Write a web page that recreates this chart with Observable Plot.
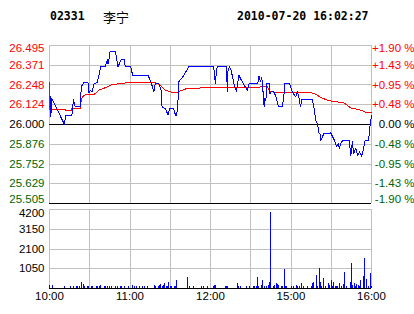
<!DOCTYPE html>
<html>
<head>
<meta charset="utf-8">
<script src="https://cdn.jsdelivr.net/npm/d3@7"></script>
<script src="https://cdn.jsdelivr.net/npm/@observablehq/plot@0.6"></script>
<style>
  html, body { margin: 0; padding: 0; background: #fff; }
  #wrap { position: relative; width: 414px; height: 314px; background: #fff; overflow: hidden; }
  #wrap svg { position: absolute; left: 0; background: transparent; }
  .hdr { position: absolute; top: 9px; font: bold 11.5px "DejaVu Sans Mono", monospace; color: #000; white-space: pre; }
  .cn { position: absolute; top: 7px; left: 103px; font: 13px "Noto Sans CJK SC", sans-serif; color: #000; }
</style>
</head>
<body>
<div id="wrap">
  <div class="hdr" id="code" style="left:50px"></div>
  <div class="cn" id="name"></div>
  <div class="hdr" id="stamp" style="left:237px"></div>
</div>
<script>
// ---- header ----
const stockCode = "02331";
const stockName = "李宁";
const timeStamp = "2010-07-20 16:02:27";

// ---- scales / tick labels ----
const prevClose = 26.000;
const priceTicks = [26.495, 26.371, 26.248, 26.124, 26.000, 25.876, 25.752, 25.629, 25.505];
const pctLabels = ["+1.90 %", "+1.43 %", "+0.95 %", "+0.48 %", "0.00 %", "-0.48 %", "-0.95 %", "-1.43 %", "-1.90 %"];
const volTicks = [4200, 3150, 2100, 1050];
// trading minutes since 10:00 (lunch break 12:30-14:30 removed)
const timeTicks = [0, 60, 120, 180, 240];
const timeLabels = ["10:00", "11:00", "12:00", "15:00", "16:00"];
const gridMinutes = [0, 30, 60, 90, 120, 150, 180, 210, 240];

// ---- price line (blue) ----
const priceMin = [1.0, 1.0, 1.8, 11, 12.2, 16.7, 17.9, 18.7, 19.7, 22.9, 23.7, 25.4, 28.7, 29.4, 30.6, 31.7, 33.2, 35.6, 37.1, 38.1,
  41.6, 43.1, 43.6, 44.4, 45.1, 49.1, 49.8, 51.1, 52.1, 53.5, 55.6, 56.5, 60.5, 62, 73.5, 76, 77.7, 78.9, 81.4, 83.2,
  83.9, 86.4, 88.4, 89.4, 92.6, 93.9, 94.8, 95.9, 96.3, 99.3, 103.8, 122, 123, 123.5, 124, 125, 132, 132.5, 132.9, 134,
  135.5, 137.4, 139.4, 141.1, 143.7, 147.4, 148.9, 155.3, 156.1, 157.4, 158.1, 158.9, 159.4, 160.1, 160.6, 161.3, 161.8, 163.9, 164.3, 165.3,
  167.3, 168.8, 170.8, 173.6, 174.8, 175.5, 178.8, 181, 183.5, 184.8, 186, 187.2, 188, 196, 197.2, 198.4, 199.7, 200.9, 201.6, 202.2,
  203.4, 204.6, 209.6, 212.1, 214.1, 215.1, 216.1, 217.1, 218.6, 223.3, 224.6, 225.8, 226.6, 228.3, 229.6, 231.1, 232.6, 234.1, 235, 237.8,
  238.5, 239.5, 240];
const priceVal = [26.173, 26.052, 26.163, 26.002, 26.058, 26.058, 26.157, 26.121, 26.110, 26.110, 26.236, 26.261, 26.261, 26.198, 26.215, 26.204, 26.257, 26.261, 26.320, 26.361,
  26.361, 26.407, 26.378, 26.414, 26.455, 26.455, 26.424, 26.361, 26.382, 26.407, 26.407, 26.361, 26.361, 26.309, 26.309, 26.257, 26.204, 26.257, 26.257, 26.215,
  26.110, 26.100, 26.058, 26.100, 26.100, 26.058, 26.058, 26.163, 26.267, 26.298, 26.361, 26.361, 26.330, 26.257, 26.298, 26.361, 26.361, 26.204, 26.330, 26.361,
  26.336, 26.257, 26.204, 26.309, 26.267, 26.215, 26.257, 26.257, 26.303, 26.267, 26.295, 26.257, 26.152, 26.110, 26.163, 26.152, 26.257, 26.257, 26.194, 26.204,
  26.204, 26.173, 26.110, 26.110, 26.194, 26.257, 26.257, 26.204, 26.173, 26.204, 26.163, 26.110, 26.157, 26.157, 26.100, 26.027, 26.006, 25.944, 25.944, 25.902,
  25.922, 25.944, 25.947, 25.906, 25.860, 25.881, 25.850, 25.881, 25.902, 25.902, 25.808, 25.891, 25.818, 25.850, 25.808, 25.828, 25.801, 25.850, 25.897, 25.897,
  25.964, 26.027, 26.058];

// ---- average price line (red) ----
const avgMin = [0, 0.3, 1.3, 11.7, 11.7, 16.7, 16.7, 22.9, 23.7, 24.6, 26.7, 32.9, 34.1, 36.6, 40.3, 44.1, 46.6, 54.1, 59, 78.9,
  82.7, 86.4, 90.3, 95.1, 97.6, 102.6, 123.7, 154.9, 157.4, 162.4, 164.8, 176, 194.7, 198.5, 202.2, 207.2, 210.9, 219.6, 224.6, 232, 237, 240];
const avgVal = [26.261, 26.094, 26.094, 26.094, 26.085, 26.085, 26.100, 26.100, 26.152, 26.173, 26.188, 26.188, 26.194, 26.215, 26.226, 26.240, 26.251, 26.257, 26.263, 26.263,
  26.246, 26.215, 26.204, 26.198, 26.211, 26.226, 26.232, 26.229, 26.236, 26.236, 26.204, 26.201, 26.201, 26.190, 26.169, 26.152, 26.146, 26.135, 26.104, 26.090, 26.073, 26.073];

// ---- volume bars ----
const volMin = [0, 2, 11, 16, 18, 20, 21, 22, 24, 25, 26, 28, 29, 31, 32, 35, 36, 37, 38, 41,
  42, 43, 45, 46, 49, 51, 53, 54, 56, 59, 62, 63, 65, 67, 69, 71, 73, 78, 79, 81,
  82, 83, 84, 85, 86, 87, 88, 89, 90, 91, 93, 94, 95, 103, 104, 107, 113, 115, 118, 122,
  123, 124, 131, 132, 133, 140, 141, 142, 147, 149, 152, 153, 154, 155, 156, 158, 159, 160, 162, 163,
  164, 165, 167, 168, 169, 170, 171, 173, 174, 175, 176, 177, 180, 182, 184, 185, 186, 188, 189, 192,
  195, 196, 197, 199, 200, 201, 202, 203, 204, 206, 208, 209, 210, 211, 212, 213, 214, 215, 216, 218,
  219, 220, 221, 224, 225, 226, 227, 228, 229, 230, 231, 232, 234, 235, 236, 238, 239, 240];
const volVal = [160, 140, 120, 120, 120, 120, 120, 120, 335, 230, 120, 120, 120, 120, 120, 120, 120, 120, 180, 120,
  120, 120, 120, 120, 120, 120, 120, 120, 120, 120, 180, 120, 120, 120, 120, 120, 120, 180, 120, 120,
  180, 230, 120, 180, 265, 120, 120, 335, 120, 120, 120, 120, 400, 580, 120, 120, 120, 120, 120, 120,
  180, 180, 120, 120, 120, 280, 120, 120, 120, 120, 120, 120, 120, 600, 120, 180, 440, 120, 120, 180,
  335, 4040, 120, 180, 280, 230, 180, 120, 120, 1025, 120, 120, 120, 120, 180, 120, 120, 280, 120, 120,
  120, 280, 335, 710, 120, 1060, 335, 120, 550, 120, 280, 180, 440, 120, 335, 120, 120, 120, 280, 120,
  230, 830, 120, 335, 1310, 180, 280, 120, 230, 180, 120, 400, 655, 1610, 500, 120, 815, 120];

// ---- colours ----
const RED = "#ff0000", GREEN = "#006400", BLUE = "#0000ff", GRID = "#c0c0c0", BLACK = "#000000";
const FONT = "Liberation Sans, Arial, sans-serif";
const tone = v => v > prevClose + 1e-9 ? RED : (v < prevClose - 1e-9 ? GREEN : BLACK);

document.getElementById("code").textContent = stockCode;
document.getElementById("name").textContent = stockName;
document.getElementById("stamp").textContent = timeStamp;

const priceLine = priceMin.map((t, i) => ({t, p: priceVal[i]}));
const avgLine = avgMin.map((t, i) => ({t, p: avgVal[i]}));
const vols = volMin.map((t, i) => ({t, v: volVal[i]}));
const pctRows = priceTicks.map((p, i) => ({p, label: pctLabels[i], i}));

function labelMarks(rows, yKey, textFn, side, dyFn) {
  // group by vertical nudge so edge labels stay inside the frame
  const groups = d3.groups(rows, (d, ) => dyFn(d));
  return groups.map(([dy, g]) => Plot.text(g, {
    frameAnchor: side, y: yKey, text: textFn,
    fill: d => tone(typeof d === "number" ? d : d.p),
    textAnchor: "end", dx: side === "left" ? -5 : 43, dy,
    fontSize: 11.5, fontFamily: FONT
  }));
}

const pricePlot = Plot.plot({
  width: 414, height: 210,
  marginTop: 45, marginBottom: 7, marginLeft: 49, marginRight: 43,
  x: {domain: [0, 240], axis: null},
  y: {domain: [25.505, 26.495], axis: null},
  color: {type: "identity"},
  style: {background: "transparent", overflow: "visible"},
  marks: [
    Plot.ruleY(priceTicks.filter(v => v !== prevClose && v !== 25.505), {stroke: GRID, shapeRendering: "crispEdges"}),
    Plot.ruleX(gridMinutes, {stroke: GRID, shapeRendering: "crispEdges"}),
    Plot.ruleY([prevClose, 25.505], {stroke: BLACK, shapeRendering: "crispEdges"}),
    Plot.line(avgLine, {x: "t", y: "p", stroke: RED, strokeWidth: 1, shapeRendering: "crispEdges"}),
    Plot.line(priceLine, {x: "t", y: "p", stroke: BLUE, strokeWidth: 1, shapeRendering: "crispEdges"}),
    ...labelMarks(priceTicks, d => d, d => d.toFixed(3), "left",
      d => d === priceTicks[0] ? 3 : (d === priceTicks[8] ? -4 : 0)),
    ...labelMarks(pctRows, "p", "label", "right",
      d => d.i === 0 ? 3 : (d.i === 8 ? -4 : 0))
  ]
});
pricePlot.style.top = "0px";

const volPlot = Plot.plot({
  width: 414, height: 114,
  marginTop: 9, marginBottom: 26, marginLeft: 49, marginRight: 43,
  x: {domain: [0, 240], axis: null},
  y: {domain: [0, 4200], axis: null},
  style: {background: "transparent", overflow: "visible"},
  marks: [
    Plot.ruleY(volTicks, {stroke: GRID, shapeRendering: "crispEdges"}),
    Plot.ruleX(gridMinutes, {stroke: GRID, shapeRendering: "crispEdges"}),
    Plot.ruleX(vols, {x: "t", y1: 0, y2: "v", stroke: BLUE, strokeWidth: 1, shapeRendering: "crispEdges"}),
    Plot.ruleY([0], {stroke: BLACK, shapeRendering: "crispEdges"}),
    Plot.text(volTicks, {frameAnchor: "left", y: d => d, text: d => String(d), textAnchor: "end", dx: -5,
      dy: 0, fill: BLACK, fontSize: 11.5, fontFamily: FONT,
      filter: d => d !== 4200}),
    Plot.text([4200], {frameAnchor: "left", y: d => d, text: d => String(d), textAnchor: "end", dx: -5,
      dy: 4, fill: BLACK, fontSize: 11.5, fontFamily: FONT}),
    Plot.text(timeTicks, {x: d => d, frameAnchor: "bottom", dy: 11, text: (d, i) => timeLabels[i],
      fill: BLACK, fontSize: 11.5, fontFamily: FONT})
  ]
});
volPlot.style.top = "200px";

const wrap = document.getElementById("wrap");
wrap.appendChild(pricePlot);
wrap.appendChild(volPlot);
</script>
</body>
</html>
